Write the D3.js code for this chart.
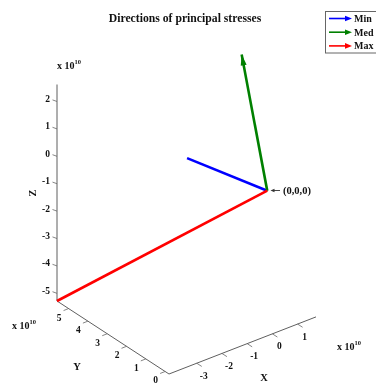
<!DOCTYPE html>
<html><head><meta charset="utf-8">
<script src="https://cdnjs.cloudflare.com/ajax/libs/d3/7.8.5/d3.min.js"></script>
<style>html,body{margin:0;padding:0;background:#fff;overflow:hidden}svg{display:block;filter:blur(0.4px)}
text{font-family:"Liberation Serif",serif;font-weight:bold;fill:#111}</style></head>
<body><script>
const title = "Directions of principal stresses";
const xTicks = [-3,-2,-1,0,1];
const yTicks = [0,1,2,3,4,5];
const zTicks = [2,1,0,-1,-2,-3,-4,-5];
const xLimits = [-4.1,1.73];
const yLimits = [-0.2,5.6];
const zLimits = [-5.28,2.62];
const seriesNames = ["Min","Med","Max"];
const seriesColors = ["#0000ff","#008000","#ff0000"];
const origin = [-0.05,0,-0.13];
const minTip = [-3.33,-0.13,2.29];
const medTip = [1.73,3.65,2.53];
const maxTip = [-4.1,5.6,-5.28];
const tips = [minTip,medTip,maxTip];

const W=376,H=385;
const svg=d3.select("body").append("svg").attr("width",W).attr("height",H);
const xpx=d3.scaleLinear().domain(xLimits).range([0,147]);
const xpy=d3.scaleLinear().domain(xLimits).range([0,-57.1]);
const ypx=d3.scaleLinear().domain(yLimits).range([0,-112]);
const ypy=d3.scaleLinear().domain(yLimits).range([0,-73]);
const zpy=d3.scaleLinear().domain(zLimits).range([0,-216.5]);
const P=(x,y,z)=>[169+xpx(x)+ypx(y),374+xpy(x)+ypy(y)+zpy(z)];
const line=d3.line();
const axisCol="#5f5f5f";
function seg(a,b,c,w){svg.append("path").attr("d",line([a,b])).attr("stroke",c).attr("stroke-width",w).attr("fill","none");}
function label(p,t,size,anchor){return svg.append("text").attr("x",p[0]).attr("y",p[1]).attr("font-size",size).attr("text-anchor",anchor||"middle").attr("dominant-baseline","central").text(t);}
function exp10(x,y){
  const t=svg.append("text").attr("x",x).attr("y",y).attr("font-size",10);
  t.append("tspan").text("x 10");
  t.append("tspan").attr("font-size",6.5).attr("dy",-5).text("10");
}
const [x0,x1]=xLimits,[y0,y1]=yLimits,[z0,z1]=zLimits;
seg(P(x0,y0,z0),P(x1,y0,z0),axisCol,1);
seg(P(x0,y0,z0),P(x0,y1,z0),axisCol,1);
seg(P(x0,y1,z0),P(x0,y1,z1),axisCol,1);
xTicks.forEach(v=>{const p=P(v,y0,z0);seg(p,[p[0]+5,p[1]+3.2],"#666",0.8);label([p[0]+7,p[1]+12.5],v,9.5);});
yTicks.forEach(v=>{const p=P(x0,v,z0);seg(p,[p[0]-5,p[1]+2],"#666",0.8);label([p[0]-9.5,p[1]+9],v,9.5);});
zTicks.forEach(v=>{const p=P(x0,y1,v);seg(p,[p[0]-4.5,p[1]-1.6],"#666",0.8);label([50,p[1]-2.5],v,9.5,"end");});

label([185,18],title,11.7);
label([264,377],"X",10.5);
label([77,366],"Y",10.5);
label([0,0],"Z",10.5).attr("transform","translate(32,193) rotate(-90)").attr("x",0).attr("y",0);
exp10(57,69);exp10(12,329);exp10(337,350);

const o=P(...origin);
tips.forEach((t,i)=>{
  const e=P(...t);
  seg(o,e,seriesColors[i],2.6);
});
(function(){
  const e=P(...medTip),dx=e[0]-o[0],dy=e[1]-o[1],L=Math.hypot(dx,dy),ux=dx/L,uy=dy/L;
  const b=[e[0]-ux*11,e[1]-uy*11];
  svg.append("path").attr("d",d3.line()([e,[b[0]-uy*3,b[1]+ux*3],[b[0]+uy*3,b[1]-ux*3]])+"Z").attr("fill",seriesColors[1]);
})();
seg([274,190.5],[280,190.5],"#333",0.9);
svg.append("path").attr("d",d3.line()([[270.5,190.5],[274.5,188.7],[274.5,192.3]])+"Z").attr("fill","#333");
label([283,190],"(0,0,0)",10.5,"start");

svg.append("rect").attr("x",325.5).attr("y",11.5).attr("width",60).attr("height",41.5).attr("fill","#fff").attr("stroke","#666").attr("stroke-width",1);
seriesNames.forEach((n,i)=>{
  const y=18.5+i*13.7;
  seg([329,y],[347,y],seriesColors[i],1.6);
  svg.append("path").attr("d",d3.line()([[352,y],[345,y-2.8],[345,y+2.8]])+"Z").attr("fill",seriesColors[i]);
  label([354,y],n,10,"start");
});
</script></body></html>
